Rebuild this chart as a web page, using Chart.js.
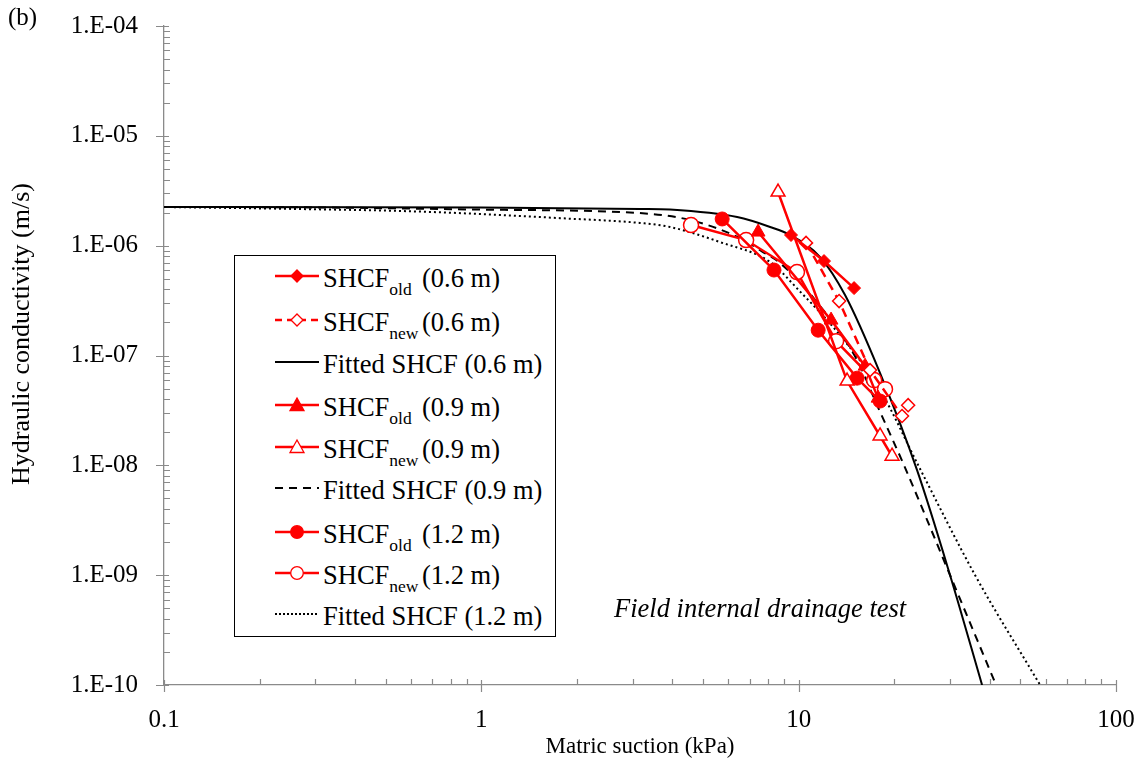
<!DOCTYPE html>
<html><head><meta charset="utf-8">
<script src="https://cdn.jsdelivr.net/npm/chart.js@4.4.1/dist/chart.umd.min.js"></script>
<style>
html,body{margin:0;padding:0;background:#fff;}
#wrap{position:relative;width:1147px;height:765px;overflow:hidden;}
#c{position:absolute;left:0;top:0;}
#legend{position:absolute;left:234px;top:255px;width:322px;height:382px;border:1px solid #000;background:#fff;box-sizing:border-box;font-family:'Liberation Serif','Times New Roman',serif;color:#000;}
.row{position:absolute;left:0;width:100%;height:42px;}
.row svg{position:absolute;left:38px;top:11px;}
.txt{position:absolute;left:88px;top:0;line-height:42px;font-size:26.5px;white-space:nowrap;padding-top:2px;}
.par{left:187px;}
.sub{font-size:17.5px;position:relative;top:8px;}
</style>
</head><body>
<div id="wrap">
<canvas id="c" width="1147" height="765"></canvas>
<div id="legend"></div>
</div>
<script>
// ---- tick labels ----
const xTickValues = [0.1, 1, 10, 100];
const xTickLabels = ['0.1', '1', '10', '100'];
const yTickValues = [1e-10, 1e-9, 1e-8, 1e-7, 1e-6, 1e-5, 1e-4];
const yTickLabels = ['1.E-10', '1.E-09', '1.E-08', '1.E-07', '1.E-06', '1.E-05', '1.E-04'];

// ---- measured data (suction kPa, K m/s) ----
const old06X = [9.46, 12.02, 14.95];
const old06Y = [1.25e-6, 7.24e-7, 4.11e-7];
const new06X = [10.55, 13.41, 16.79, 21.17, 22.13];
const new06Y = [1.06e-6, 3.13e-7, 7.36e-8, 2.81e-8, 3.53e-8];
const old09X = [7.45, 12.65, 16.19, 17.79];
const old09Y = [1.33e-6, 2.10e-7, 8.0e-8, 4.09e-8];
const new09X = [8.61, 14.21, 18.05, 19.69];
const new09Y = [3.08e-6, 5.85e-8, 1.85e-8, 1.21e-8];
const old12X = [5.74, 8.36, 11.52, 15.28, 18.05];
const old12Y = [1.75e-6, 6.0e-7, 1.70e-7, 6.22e-8, 3.85e-8];
const new12X = [4.58, 6.83, 9.88, 13.12, 17.29, 18.71];
const new12Y = [1.54e-6, 1.125e-6, 5.75e-7, 1.35e-7, 5.97e-8, 4.94e-8];

// ---- fitted curves ----
const fit06X = [0.1, 1, 3.16, 3.93, 6.40, 8.13, 9.40, 11.68, 14.0, 18.05, 23.61, 30.0, 37.84];
const fit06Y = [2.25e-6, 2.23e-6, 2.16e-6, 2.13e-6, 1.82e-6, 1.48e-6, 1.25e-6, 7.87e-7, 3.55e-7, 6.91e-8, 9.04e-9, 1.0e-9, 1.0e-10];
const fit09X = [0.1, 0.3, 1, 3.16, 4.55, 6.54, 7.72, 8.74, 11.27, 15.28, 17.66, 21.33, 30.0, 41.88];
const fit09Y = [2.25e-6, 2.23e-6, 2.13e-6, 1.98e-6, 1.71e-6, 1.17e-6, 8.74e-7, 6.94e-7, 3.20e-7, 9.08e-8, 3.53e-8, 1.047e-8, 1.0e-9, 1.0e-10];
const fit12X = [0.1, 0.268, 0.554, 1, 1.77, 3.16, 3.93, 5.65, 8.13, 10.0, 13.5, 18.05, 23.8, 35.97, 57.65];
const fit12Y = [2.25e-6, 2.155e-6, 2.07e-6, 1.94e-6, 1.78e-6, 1.61e-6, 1.48e-6, 1.078e-6, 7.09e-7, 3.94e-7, 1.53e-7, 4.84e-8, 1.004e-8, 1.0e-9, 1.0e-10];

const RED = '#FF0000';
const pts = (xs, ys) => xs.map((x, i) => ({x: x, y: ys[i]}));

function dataSet(label, xs, ys, style, fill, radius, dash) {
  return {
    label: label, data: pts(xs, ys), showLine: true, tension: 0,
    borderColor: RED, borderWidth: 2.5, borderDash: dash || [],
    pointStyle: style, pointRadius: radius, pointHoverRadius: radius,
    pointBackgroundColor: fill ? RED : '#FFFFFF', pointBorderColor: RED,
    pointBorderWidth: fill ? 1 : 1.5, order: 1
  };
}
function fitSet(label, xs, ys, dash) {
  return {
    label: label, data: pts(xs, ys), showLine: true,
    cubicInterpolationMode: 'monotone',
    borderColor: '#000', borderWidth: 2, borderDash: dash,
    pointRadius: 0, pointHoverRadius: 0, order: 2
  };
}

const datasets = [
  dataSet('SHCF old (0.6 m)', old06X, old06Y, 'rectRot', true, 6.5),
  dataSet('SHCF new (0.6 m)', new06X, new06Y, 'rectRot', false, 6.5, [9, 6]),
  fitSet('Fitted SHCF (0.6 m)', fit06X, fit06Y, []),
  dataSet('SHCF old (0.9 m)', old09X, old09Y, 'triangle', true, 8),
  dataSet('SHCF new (0.9 m)', new09X, new09Y, 'triangle', false, 8),
  fitSet('Fitted SHCF (0.9 m)', fit09X, fit09Y, [8, 6]),
  dataSet('SHCF old (1.2 m)', old12X, old12Y, 'circle', true, 7),
  dataSet('SHCF new (1.2 m)', new12X, new12Y, 'circle', false, 7.5),
  fitSet('Fitted SHCF (1.2 m)', fit12X, fit12Y, [2, 3])
];

const AXIS = '#8A8A8A';
const FONT = "'Liberation Serif', 'Times New Roman', serif";

const extras = {
  id: 'extras',
  beforeDatasetsDraw(chart) {
    const ctx = chart.ctx, xs = chart.scales.x, ys = chart.scales.y;
    const ca = chart.chartArea;
    ctx.save();
    ctx.strokeStyle = AXIS; ctx.lineWidth = 1.2;
    ctx.beginPath();
    for (let d = -1; d <= 2; d++) {
      for (let k = 1; k <= 9; k++) {
        const v = k * Math.pow(10, d);
        if (v < 0.1 - 1e-9 || v > 100 + 1e-9) continue;
        const p = Math.round(xs.getPixelForValue(v)) + 0.5;
        if (k === 1) { ctx.moveTo(p, ca.bottom - 5); ctx.lineTo(p, ca.bottom + 7); }
        else { ctx.moveTo(p, ca.bottom - 6); ctx.lineTo(p, ca.bottom); }
      }
    }
    for (let d = -10; d <= -4; d++) {
      for (let k = 1; k <= 9; k++) {
        const v = k * Math.pow(10, d);
        if (v > 1.0001e-4) continue;
        const p = Math.round(ys.getPixelForValue(v)) + 0.5;
        if (k === 1) { ctx.moveTo(ca.left - 8, p); ctx.lineTo(ca.left + 5, p); }
        else { ctx.moveTo(ca.left, p); ctx.lineTo(ca.left + 6, p); }
      }
    }
    ctx.stroke();
    ctx.restore();
  },
  afterDraw(chart) {
    const ctx = chart.ctx;
    ctx.save();
    ctx.fillStyle = '#000';
    ctx.font = '26px ' + FONT;
    ctx.textAlign = 'center'; ctx.textBaseline = 'middle';
    ctx.translate(22, 334); ctx.rotate(-Math.PI / 2);
    ctx.fillText('Hydraulic conductivity (m/s)', 0, 0);
    ctx.restore();
    ctx.save();
    ctx.fillStyle = '#000';
    ctx.font = '25px ' + FONT;
    ctx.textAlign = 'left'; ctx.textBaseline = 'middle';
    ctx.fillText('(b)', 8, 18);
    ctx.font = 'italic 26.5px ' + FONT;
    ctx.fillText('Field internal drainage test', 614, 610);
    ctx.restore();
  }
};

new Chart(document.getElementById('c'), {
  type: 'line',
  data: { datasets: datasets },
  options: {
    responsive: false, animation: false, devicePixelRatio: 1,
    layout: { padding: { top: 26, right: 31, left: 0, bottom: 0 } },
    plugins: { legend: { display: false }, tooltip: { enabled: false } },
    scales: {
      x: {
        type: 'logarithmic', min: 0.1, max: 100,
        afterFit: s => { s.height = 80; s.paddingLeft = 0; s.paddingRight = 0; },
        afterBuildTicks: s => { s.ticks = xTickValues.map(v => ({ value: v })); },
        grid: { display: false, drawTicks: false },
        border: { display: true, color: AXIS, width: 1.3 },
        ticks: {
          autoSkip: false, maxRotation: 0, padding: 20, color: '#000',
          font: { family: FONT, size: 25 },
          callback: (v, i) => xTickLabels[i]
        },
        title: { display: true, text: 'Matric suction (kPa)', color: '#000',
          font: { family: FONT, size: 23 }, padding: { top: 0, bottom: 4 } }
      },
      y: {
        type: 'logarithmic', min: 1e-10, max: 1e-4,
        afterFit: s => { s.width = 164; s.paddingTop = 0; s.paddingBottom = 0; },
        afterBuildTicks: s => { s.ticks = yTickValues.map(v => ({ value: v })); },
        grid: { display: false, drawTicks: false },
        border: { display: true, color: AXIS, width: 1.3 },
        ticks: {
          autoSkip: false, padding: 26, color: '#000',
          font: { family: FONT, size: 25 },
          callback: (v, i) => yTickLabels[i]
        }
      }
    }
  },
  plugins: [extras]
});

// ---- HTML legend with subscripts ----
const legendRows = [
  { kind: 'old', depth: '(0.6 m)', marker: 'diamond', fill: true, dash: '' },
  { kind: 'new', depth: '(0.6 m)', marker: 'diamond', fill: false, dash: '7 5' },
  { kind: 'fit', depth: '(0.6 m)', dash: '' },
  { kind: 'old', depth: '(0.9 m)', marker: 'triangle', fill: true, dash: '' },
  { kind: 'new', depth: '(0.9 m)', marker: 'triangle', fill: false, dash: '' },
  { kind: 'fit', depth: '(0.9 m)', dash: '8 6' },
  { kind: 'old', depth: '(1.2 m)', marker: 'circle', fill: true, dash: '' },
  { kind: 'new', depth: '(1.2 m)', marker: 'circle', fill: false, dash: '' },
  { kind: 'fit', depth: '(1.2 m)', dash: '2 2' }
];
const rowLineY = [276, 320, 362, 405, 447, 488, 532, 573, 614];
const leg = document.getElementById('legend');
legendRows.forEach((r, i) => {
  const row = document.createElement('div');
  row.className = 'row';
  row.style.top = (rowLineY[i] - 256 - 21) + 'px';
  let svg = '<svg width="50" height="20" viewBox="0 0 50 20">';
  if (r.kind === 'fit') {
    svg += '<line x1="2" y1="10" x2="46" y2="10" stroke="#000" stroke-width="2" stroke-dasharray="' + r.dash + '"/>';
  } else {
    svg += '<line x1="2" y1="10" x2="46" y2="10" stroke="' + RED + '" stroke-width="2.5" stroke-dasharray="' + r.dash + '"/>';
    const f = r.fill ? RED : '#fff';
    if (r.marker === 'diamond') svg += '<polygon points="24,4 30,10 24,16 18,10" fill="' + f + '" stroke="' + RED + '" stroke-width="1.3"/>';
    if (r.marker === 'triangle') svg += '<polygon points="24,3 31,15.5 17,15.5" fill="' + f + '" stroke="' + RED + '" stroke-width="1.3"/>';
    if (r.marker === 'circle') svg += '<circle cx="24" cy="10" r="6.3" fill="' + f + '" stroke="' + RED + '" stroke-width="1.3"/>';
  }
  svg += '</svg>';
  let html = svg;
  if (r.kind === 'fit') {
    html += '<span class="txt">Fitted SHCF ' + r.depth + '</span>';
  } else {
    html += '<span class="txt">SHCF<span class="sub">' + r.kind + '</span></span>';
    html += '<span class="txt par">' + r.depth + '</span>';
  }
  row.innerHTML = html;
  leg.appendChild(row);
});
</script>
</body></html>
